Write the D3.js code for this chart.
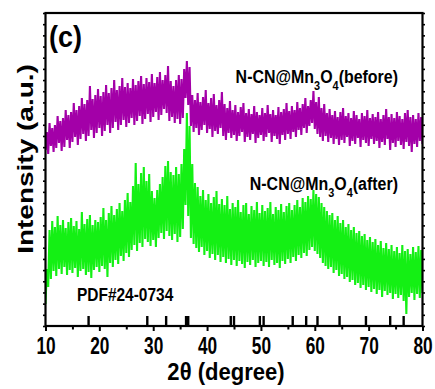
<!DOCTYPE html>
<html>
<head>
<meta charset="utf-8">
<script src="https://cdn.jsdelivr.net/npm/d3@7"></script>
<style>
  body { margin: 0; background: #fff; }
  svg text { font-family: "Liberation Sans", Arial, sans-serif; font-weight: bold; fill: #000; }
</style>
</head>
<body>
<div id="chart"></div>
<script>
// 2theta grid of the traces, 0.5 deg steps from 10 to 80
const angles = d3.range(0, 141).map(i => 10 + i * 0.5)

// N-CN@Mn3O4 (before): upper / lower excursions of the noisy trace (a.u.)
const beforeHi = [192,201,196,199,208,203,206,214,209,212,
  221,214,218,226,220,224,238,225,229,235,
  228,232,239,231,236,244,234,238,246,237,
  241,236,245,239,243,248,240,246,242,250,
  241,247,252,244,249,258,243,238,244,249,
  245,255,263,257,229,224,231,222,227,234,
  221,226,230,219,224,232,220,216,223,214,
  219,212,217,221,211,215,210,218,212,209,
  216,211,219,210,214,209,217,212,215,221,
  213,218,214,222,216,220,226,218,224,233,
  222,227,216,220,211,215,209,213,207,212,
  216,208,211,206,213,209,205,211,208,214,
  206,210,207,212,205,209,215,207,210,206,
  212,208,205,211,214,207,209,205,211,207,
  209]
const beforeLo = [174,170,178,172,176,181,173,177,184,176,
  182,187,179,185,190,183,188,194,186,191,
  196,188,193,199,191,196,202,194,199,204,
  197,201,206,199,203,208,200,205,210,202,
  207,212,204,209,215,211,203,207,201,205,
  200,206,226,219,198,192,196,189,194,199,
  191,195,187,193,190,196,188,184,191,186,
  189,183,188,192,182,187,184,190,181,186,
  189,183,187,191,182,188,185,180,189,184,
  190,185,192,187,194,189,196,191,198,201,
  195,190,187,183,188,182,186,180,185,179,
  184,181,187,178,183,180,186,177,184,181,
  178,185,180,183,176,182,179,185,174,181,
  177,183,179,175,182,178,172,180,177,183,
  180]

// N-CN@Mn3O4 (after)
const afterHi = [55,94,103,97,108,99,104,96,102,106,
  98,103,95,112,100,105,109,99,104,102,
  107,116,104,111,118,109,115,121,113,124,
  131,122,138,161,140,151,157,143,150,133,
  126,134,140,147,158,163,152,149,157,150,
  160,175,211,198,160,141,137,128,134,124,
  130,121,127,133,120,125,119,128,115,121,
  117,124,112,119,121,110,118,114,122,111,
  119,113,116,122,110,117,114,120,112,118,
  121,114,119,124,117,126,122,128,125,134,
  130,127,121,117,113,109,111,104,108,101,
  104,97,100,94,97,91,93,88,90,84,
  87,82,85,79,83,76,81,75,79,73,
  77,71,79,73,75,70,77,72,78,74,
  76]
const afterLo = [20,37,45,53,48,55,50,57,49,54,
  51,56,47,53,55,49,52,46,54,57,
  52,58,55,47,61,57,64,60,68,63,
  71,67,74,79,73,81,77,85,82,78,
  84,77,86,91,85,93,88,84,90,82,
  87,95,119,108,86,80,76,72,77,69,
  73,66,70,64,69,62,67,61,65,59,
  64,58,63,60,56,62,59,64,57,61,
  63,58,62,57,64,59,61,56,63,60,
  65,61,67,63,69,66,71,68,74,77,
  73,70,66,61,58,55,57,51,54,48,
  50,45,47,42,44,39,41,36,39,34,
  37,32,35,30,34,27,33,29,31,25,
  30,26,29,23,10,27,31,24,30,26,
  31]

// PDF#24-0734 reference lines (2theta)
const pdfPeaks = [18.0, 28.9, 32.4, 36.1, 36.5, 44.4, 45.0, 49.8, 50.5, 55.9, 58.4, 60.5, 64.6, 69.5, 74.0, 76.5]

const majorTicks = [10, 20, 30, 40, 50, 60, 70, 80]
const minorTicks = [15, 25, 35, 45, 55, 65, 75]

const width = 435, height = 389
const margin = {top: 13, right: 12.5, bottom: 63, left: 45.5}
const purple = "#a300a8"
const green = "#14f014"

const svg = d3.select("#chart").append("svg")
    .attr("width", width)
    .attr("height", height)

const x = d3.scaleLinear()
    .domain([10, 80])
    .range([margin.left, width - margin.right])
const y = d3.scaleLinear()
    .domain([-2, 311])
    .range([height - margin.bottom, margin.top])

svg.append("defs").append("clipPath").attr("id", "plot-clip")
  .append("rect")
    .attr("x", margin.left).attr("y", margin.top)
    .attr("width", x(80) - x(10)).attr("height", y(-2) - y(311))

const series = [
  {hi: beforeHi, lo: beforeLo, color: purple},
  {hi: afterHi, lo: afterLo, color: green}
]

// each trace swings between its low and high readings, which gives the noisy band
const traces = svg.append("g").attr("clip-path", "url(#plot-clip)")
const trace = d3.line().x(d => x(d[0])).y(d => y(d[1]))
series.forEach(s => {
  const pts = []
  angles.forEach((a, i) => {
    pts.push([a, s.lo[i]])
    pts.push([a + 0.25, s.hi[i]])
  })
  traces.append("path")
      .datum(pts)
      .attr("d", trace)
      .attr("fill", "none")
      .attr("stroke", s.color)
      .attr("stroke-width", 2.1)
      .attr("stroke-linejoin", "bevel")
})

// reference sticks standing on the x axis
svg.append("g").selectAll("line.pdf")
  .data(pdfPeaks)
  .enter().append("line")
    .attr("class", "pdf")
    .attr("x1", d => x(d)).attr("x2", d => x(d))
    .attr("y1", y(-2)).attr("y2", y(-2) - 10)
    .attr("stroke", "#000")
    .attr("stroke-width", 2.4)

// frame ticks (no labels) on left and right
const yTicks = d3.range(0, 29).map(k => -2 + k * 313 / 28)
svg.append("g")
    .attr("transform", `translate(${margin.left},0)`)
    .call(d3.axisLeft(y).tickValues(yTicks).tickSize(2.5).tickFormat(""))
    .call(g => g.select(".domain").remove())
    .selectAll("line").attr("stroke-width", 1.6)
svg.append("g")
    .attr("transform", `translate(${width - margin.right},0)`)
    .call(d3.axisRight(y).tickValues(yTicks).tickSize(2.5).tickFormat(""))
    .call(g => g.select(".domain").remove())
    .selectAll("line").attr("stroke-width", 1.6)

// bottom axis
const xAxis = svg.append("g")
    .attr("transform", `translate(0,${height - margin.bottom})`)
    .call(d3.axisBottom(x).tickValues(majorTicks).tickSize(5).tickPadding(8))
xAxis.select(".domain").remove()
xAxis.selectAll("line").attr("stroke-width", 2)
xAxis.selectAll("text")
    .attr("font-size", 24)
    .attr("font-family", "Liberation Sans, Arial, sans-serif")
    .attr("font-weight", "bold")
    .attr("dy", null)
    .attr("y", 28.5)
    .attr("transform", "scale(0.72,1)")
svg.append("g")
    .attr("transform", `translate(0,${height - margin.bottom})`)
    .call(d3.axisBottom(x).tickValues(minorTicks).tickSize(3.5).tickFormat(""))
    .call(g => g.select(".domain").remove())
    .selectAll("line").attr("stroke-width", 2)

// frame
svg.append("rect")
    .attr("x", margin.left).attr("y", margin.top)
    .attr("width", x(80) - x(10)).attr("height", y(-2) - y(311))
    .attr("fill", "none")
    .attr("stroke", "#000")
    .attr("stroke-width", 2.2)

// texts
function label(tx, ty, sx, anchor, size) {
  return svg.append("text")
      .attr("transform", `translate(${tx},${ty}) scale(${sx},1)`)
      .attr("text-anchor", anchor)
      .attr("font-size", size)
}

label(49, 47, 0.9, "start", 30).text("(c)")

function formula(t, suffix) {
  t.append("tspan").text("N-CN@Mn")
  t.append("tspan").attr("font-size", 13).attr("dy", 7).text("3")
  t.append("tspan").attr("dy", -7).text("O")
  t.append("tspan").attr("font-size", 13).attr("dy", 7).text("4")
  t.append("tspan").attr("dy", -7).text(suffix)
}
formula(label(398, 83, 0.84, "end", 19), "(before)")
formula(label(398, 190, 0.84, "end", 19), "(after)")

label(77, 301, 0.86, "start", 18).text("PDF#24-0734")

label(226, 380, 0.9, "middle", 24.5).text("2θ (degree)")

svg.append("text")
    .attr("transform", "translate(33,159) rotate(-90) scale(1,0.82)")
    .attr("text-anchor", "middle")
    .attr("font-size", 28)
    .text("Intensity (a.u.)")
</script>
</body>
</html>
